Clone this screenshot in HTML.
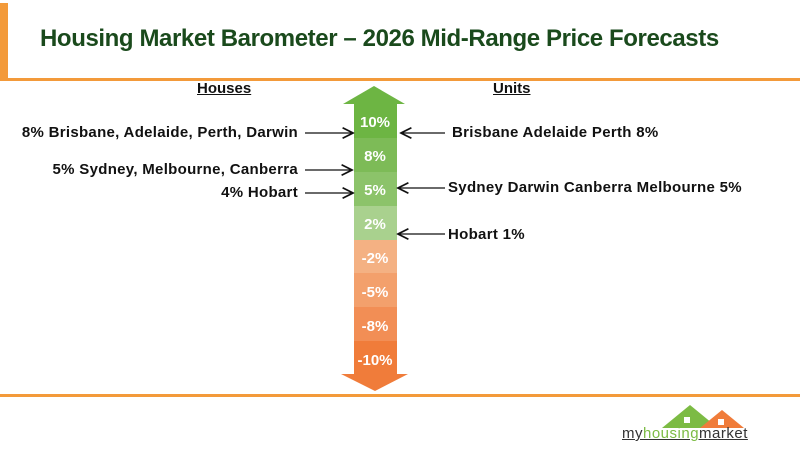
<!DOCTYPE html>
<html><head><meta charset="utf-8"><style>
body{margin:0;width:800px;height:450px;background:#fff;position:relative;overflow:hidden;font-family:"Liberation Sans",sans-serif}
.t{position:absolute;font-weight:bold;font-size:15px;color:#111;white-space:nowrap}
</style></head><body>
<div style="position:absolute;left:0;top:3px;width:8px;height:78px;background:#f39a3a"></div>
<div style="position:absolute;left:0;top:78px;width:800px;height:3px;background:#f39a3a"></div>
<div style="position:absolute;left:0;top:394px;width:800px;height:3px;background:#f39a3a"></div>
<div style="position:absolute;left:40px;top:25px;font-size:24px;font-weight:bold;color:#1a4a1c;letter-spacing:-0.4px">Housing Market Barometer – 2026 Mid-Range Price Forecasts</div>
<div class="t" style="left:197px;top:80px;text-decoration:underline">Houses</div>
<div class="t" style="left:493px;top:80px;text-decoration:underline">Units</div>
<svg width="800" height="450" style="position:absolute;left:0;top:0">
<defs><marker id="a" markerWidth="10" markerHeight="10" refX="9" refY="5" orient="auto"><path d="M1,1 L9,5 L1,9" fill="none" stroke="#111" stroke-width="1.3"/></marker></defs>
<polygon points="343,104 374,86 405,104" fill="#6db543"/>
<rect x="354" y="103" width="43" height="35" fill="#6db543"/>
<rect x="354" y="138" width="43" height="34" fill="#7dbb57"/>
<rect x="354" y="172" width="43" height="34" fill="#8cc36a"/>
<rect x="354" y="206" width="43" height="34" fill="#a9d18e"/>
<rect x="354" y="240" width="43" height="33" fill="#f4b183"/>
<rect x="354" y="273" width="43" height="34" fill="#f3a06c"/>
<rect x="354" y="307" width="43" height="34" fill="#f28e55"/>
<rect x="354" y="341" width="43" height="34" fill="#f07c3a"/>
<polygon points="341,374 375,391 408,374" fill="#f07c3a"/>
<g font-family="Liberation Sans" font-weight="bold" font-size="15" fill="#fff" text-anchor="middle">
<text x="375" y="127">10%</text><text x="375" y="161">8%</text><text x="375" y="195">5%</text><text x="375" y="229">2%</text>
<text x="375" y="263">-2%</text><text x="375" y="297">-5%</text><text x="375" y="331">-8%</text><text x="375" y="365">-10%</text>
</g>
<g stroke="#111" stroke-width="1.3" marker-end="url(#a)">
<line x1="305" y1="133" x2="353" y2="133"/><line x1="305" y1="170" x2="352" y2="170"/><line x1="305" y1="193" x2="353" y2="193"/>
<line x1="445" y1="133" x2="401" y2="133"/><line x1="445" y1="188" x2="398" y2="188"/><line x1="445" y1="234" x2="398" y2="234"/>
</g>
</svg>
<div class="t" style="right:502px;top:124px;letter-spacing:0.3px">8% Brisbane, Adelaide, Perth, Darwin</div>
<div class="t" style="right:502px;top:161px;letter-spacing:0.3px">5% Sydney, Melbourne, Canberra</div>
<div class="t" style="right:502px;top:184px;letter-spacing:0.3px">4% Hobart</div>
<div class="t" style="left:452px;top:124px;letter-spacing:0.3px">Brisbane Adelaide Perth 8%</div>
<div class="t" style="left:448px;top:179px;letter-spacing:0.3px">Sydney Darwin Canberra Melbourne 5%</div>
<div class="t" style="left:448px;top:226px;letter-spacing:0.3px">Hobart 1%</div>
<svg width="120" height="30" style="position:absolute;left:660px;top:402px">
<polygon points="2,26 30,3 58,26" fill="#7cbb44"/><polygon points="40,26 62,8 84,26" fill="#f07c3a"/>
<rect x="24" y="15" width="6" height="6" fill="#fff"/><rect x="58" y="17" width="6" height="6" fill="#fff"/>
</svg>
<div style="position:absolute;left:622px;top:425px;font-size:15px;letter-spacing:0.5px;color:#333;text-decoration:underline">my<span style="color:#7cbb44">housing</span>market</div>
</body></html>
